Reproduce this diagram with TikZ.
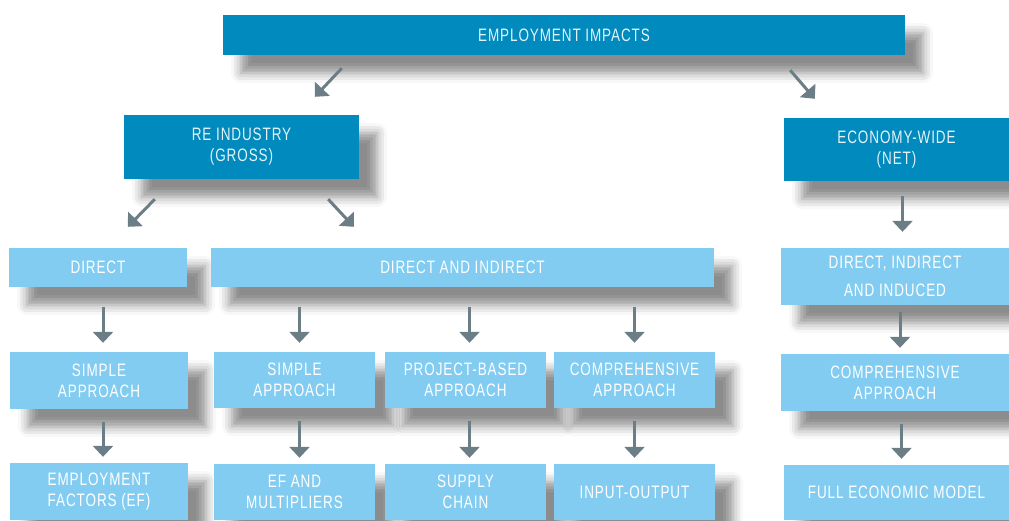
\documentclass[tikz,border=0pt]{standalone}
\usepackage{fontspec}
\setmainfont{Liberation Sans}[FakeStretch=0.75,LetterSpace=5]
\usetikzlibrary{arrows.meta, calc, positioning, shadows.blur}
\definecolor{darkblue}{HTML}{008ABD}
\definecolor{lightblue}{HTML}{82CCF1}
\definecolor{arrowgray}{HTML}{6C7E85}
\definecolor{pale}{HTML}{E4F3FA}
\tikzset{
  box/.style={rectangle, inner sep=0pt, align=center, font=\fontsize{18}{21}\selectfont,
    blur shadow={shadow xshift=18pt, shadow yshift=-18pt, shadow blur radius=10pt, shadow opacity=45}},
  darkbox/.style={box, fill=darkblue, text=pale},
  lightbox/.style={box, fill=lightblue, text=white},
  arr/.style={->, draw=arrowgray, line width=3pt}
}
\begin{document}
\begin{tikzpicture}[x=1pt,y=-1pt,>={Triangle[width=20pt,length=11pt]}]
\useasboundingbox (0,0) rectangle (1009,520);
\node[darkbox, minimum width=682, minimum height=40] at (564,35) (ei) {EMPLOYMENT IMPACTS};
\node[darkbox, minimum width=235, minimum height=64] at (241.5,147) (re) {RE INDUSTRY\\(GROSS)};
\node[darkbox, minimum width=225, minimum height=63] at (896.5,149.5) (ew) {ECONOMY-WIDE\\(NET)};
\node[lightbox, minimum width=178, minimum height=39] at (98,267.5) (dir) {DIRECT};
\node[lightbox, minimum width=503, minimum height=39] at (462.5,267.5) (dai) {DIRECT AND INDIRECT};
\node[lightbox, minimum width=228, minimum height=57] at (895,276.5) (dii) {DIRECT, INDIRECT\\[7pt]AND INDUCED};
\node[lightbox, minimum width=178, minimum height=57] at (99,380.5) (sa1) {SIMPLE\\APPROACH};
\node[lightbox, minimum width=161, minimum height=56] at (294.5,380) (sa2) {SIMPLE\\APPROACH};
\node[lightbox, minimum width=161, minimum height=56] at (465.5,380) (pba) {PROJECT-BASED\\APPROACH};
\node[lightbox, minimum width=161, minimum height=56] at (634.5,380) (ca1) {COMPREHENSIVE\\APPROACH};
\node[lightbox, minimum width=228, minimum height=57] at (895,382.5) (ca2) {COMPREHENSIVE\\APPROACH};
\node[lightbox, minimum width=178, minimum height=57] at (99,491.5) (ef1) {EMPLOYMENT\\FACTORS (EF)};
\node[lightbox, minimum width=161, minimum height=56] at (294.5,492) (efm) {EF AND\\MULTIPLIERS};
\node[lightbox, minimum width=161, minimum height=56] at (465.5,492) (sc) {SUPPLY\\CHAIN};
\node[lightbox, minimum width=161, minimum height=56] at (634.5,492) (io) {INPUT-OUTPUT};
\node[lightbox, minimum width=225, minimum height=55] at (896.5,492.5) (fem) {FULL ECONOMIC MODEL};
% diagonal arrows
\draw[arr] ([shift={(119,13)}]ei.south west) to ([shift={(191,-18)}]re.north west);
\draw[arr] ([shift={(-115,15)}]ei.south east) to ([shift={(31,-19)}]ew.north west);
\draw[arr] ([shift={(31,20)}]re.south west) to ([shift={(119,-21)}]dir.north west);
\draw[arr] ([shift={(-31,20)}]re.south east) to ([shift={(143,-21)}]dai.north west);
% vertical arrows
\draw[arr, shorten <=15pt, shorten >=16pt] ([xshift=6pt]ew.south) to ([xshift=6pt]ew.south |- dii.north);
\draw[arr, shorten <=7pt, shorten >=6pt] ([xshift=5pt]ca2.north |- dii.south) to ([xshift=5pt]ca2.north);
\foreach \a/\b/\s in {dir/sa1/4, dai/sa2/5, dai/pba/4, dai/ca1/0}
  \draw[arr, shorten <=20pt, shorten >=9pt] ([xshift=\s pt]\b.north |- \a.south) to ([xshift=\s pt]\b.north);
\foreach \a/\b/\s in {sa1/ef1/4, sa2/efm/5, pba/sc/4, ca1/io/0, ca2/fem/5}
  \draw[arr, shorten <=13pt, shorten >=6pt] ([xshift=\s pt]\b.north |- \a.south) to ([xshift=\s pt]\b.north);
\end{tikzpicture}
\end{document}
